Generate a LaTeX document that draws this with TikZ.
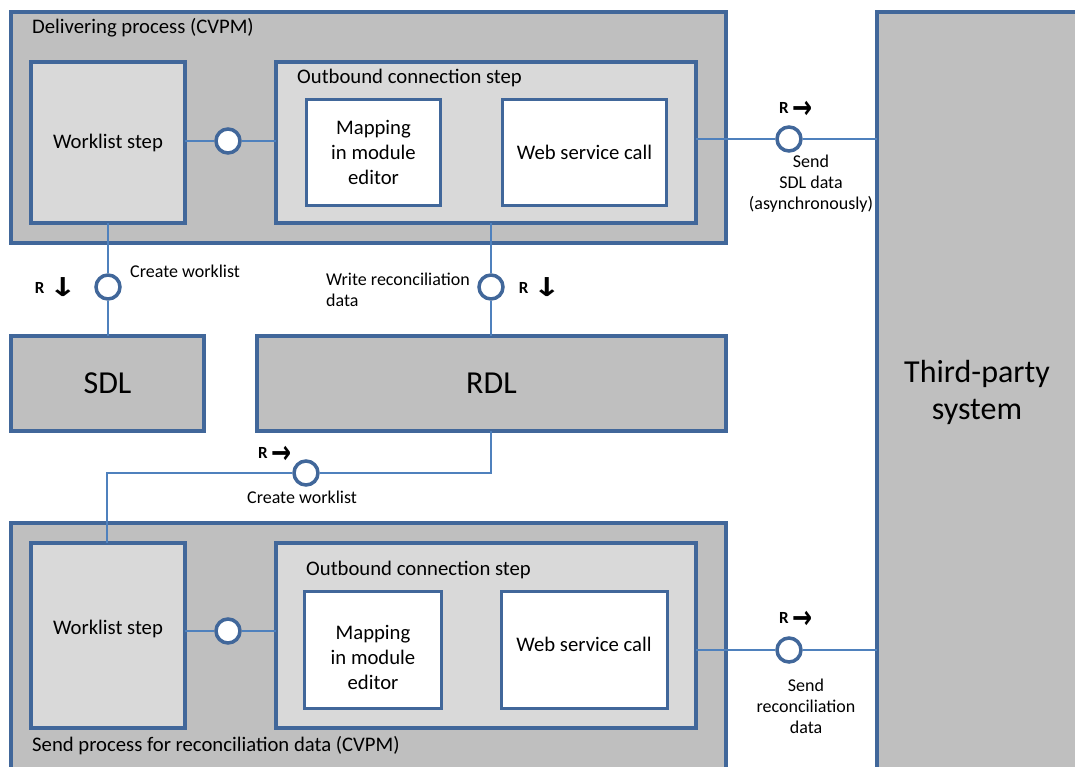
\documentclass[tikz,border=0pt]{standalone}
\usepackage{graphicx}
\usepackage{fontspec}
\setmainfont{Carlito}
\newfontfamily\arrowfont{DejaVu Sans}
\begin{document}
\begin{tikzpicture}[x=1pt,y=-1pt]
  % Colores
  \definecolor{framecolor}{RGB}{65,103,154}
  \definecolor{linkcolor}{RGB}{79,129,189}
  \definecolor{outerfill}{RGB}{191,191,191}
  \definecolor{innerfill}{RGB}{217,217,217}

  % Estilos
  \tikzset{
    process/.style={draw=framecolor, fill=outerfill, line width=4pt, anchor=north west, inner sep=0pt, outer sep=0pt},
    stepbox/.style={draw=framecolor, fill=innerfill, line width=3.5pt, anchor=north west, inner sep=0pt, outer sep=0pt, font=\fontsize{20.7}{25}\selectfont},
    task/.style={draw=framecolor, fill=white, line width=3pt, anchor=north west, inner sep=0pt, outer sep=0pt, align=center, font=\fontsize{20.7}{25}\selectfont},
    boxtext/.style={inner sep=0pt, align=center, font=\fontsize{20.7}{25}\selectfont},
    store/.style={draw=framecolor, fill=outerfill, line width=3.5pt, anchor=north west, inner sep=0pt, outer sep=0pt, align=center, font=\fontsize{32}{37}\selectfont},
    caption/.style={anchor=west, inner sep=0pt, font=\fontsize{20.7}{25}\selectfont},
    iface/.style={circle, draw=framecolor, fill=white, line width=3.5pt, minimum size=24pt, inner sep=0pt},
    link/.style={draw=linkcolor, line width=1.3pt},
    note/.style={inner sep=0pt, align=center, font=\fontsize{18}{21}\selectfont},
    req/.style={inner sep=0pt, font=\fontsize{17}{18}\selectfont}
  }
  \newcommand{\reqright}{\textbf{R}\hspace{4pt}\raisebox{-5pt}{\scalebox{1.2}[1.6]{\arrowfont\bfseries\fontsize{20}{20}\selectfont →}}}
  \newcommand{\reqdown}{\textbf{R}\hspace{4pt}\raisebox{-3pt}{\scalebox{1.7}[1.3]{\arrowfont\bfseries\fontsize{20}{20}\selectfont ↓}}}

  \useasboundingbox (0,0) rectangle (1075,766);
  \clip (0,0) rectangle (1075,766);

  % Sistema de terceros
  \node[store, minimum width=200pt, minimum height=760pt] (third) at (877,12) {Third-party\\system};

  % Proceso de entrega
  \node[process, minimum width=715pt, minimum height=231pt] (deliv) at (11,12) {};
  \node[caption] (delivlbl) at (32,28) {Delivering process (CVPM)};
  \node[stepbox, minimum width=154pt, minimum height=161pt] (wlA) at (31,62) {Worklist step};
  \node[stepbox, minimum width=420pt, minimum height=161pt] (outA) at (276,62) {};
  \node[caption] (outAlbl) at (297,78) {Outbound connection step};
  \node[task, minimum width=134pt, minimum height=106pt] (mapA) at (306.5,99.5) {Mapping\\in module\\editor};
  \node[task, minimum width=164pt, minimum height=106pt] (webA) at (502.5,99.5) {Web service call};

  % Almacenes de datos
  \node[store, minimum width=193pt, minimum height=95pt] (sdl) at (11,336) {SDL};
  \node[store, minimum width=469pt, minimum height=95pt] (rdl) at (257,336) {RDL};

  % Proceso de envio
  \node[process, minimum width=715pt, minimum height=260pt] (send) at (11,523) {};
  \node[caption] (sendlbl) at (32,746) {Send process for reconciliation data (CVPM)};
  \node[stepbox, minimum width=154pt, minimum height=185pt] (wlB) at (31,543) {};
  \node[boxtext] (wlBtxt) at (108,629) {Worklist step};
  \node[stepbox, minimum width=420pt, minimum height=185pt] (outB) at (276,543) {};
  \node[caption] (outBlbl) at (306,570) {Outbound connection step};
  \node[task, minimum width=137pt, minimum height=117pt] (mapB) at (304.5,591.5) {};
  \node[boxtext] (mapBtxt) at (373,657) {Mapping\\in module\\editor};
  \node[task, minimum width=166pt, minimum height=117pt] (webB) at (501.5,591.5) {};
  \node[boxtext] (webBtxt) at (584,644) {Web service call};

  % Interfaces
  \node[iface] (ifA) at (228,141) {};
  \node[iface] (ifSend) at (789,139) {};
  \node[iface] (ifSdl) at (108,287) {};
  \node[iface] (ifRdl) at (491,287) {};
  \node[iface] (ifWl) at (306,473) {};
  \node[iface] (ifB) at (228,631) {};
  \node[iface] (ifRec) at (789,650) {};
  \coordinate (bendR) at (491,473);
  \coordinate (bendL) at (107,473);

  % Conexiones
  \draw[link] (ifA -| wlA.east) -- (ifA);
  \draw[link] (ifA) -- (ifA -| outA.west);
  \draw[link] (ifSend -| outA.east) -- (ifSend);
  \draw[link] (ifSend) -- (ifSend -| third.west);
  \draw[link] (ifSdl |- wlA.south) -- (ifSdl);
  \draw[link] (ifSdl) -- (ifSdl |- sdl.north);
  \draw[link] (ifRdl |- outA.south) -- (ifRdl);
  \draw[link] (ifRdl) -- (ifRdl |- rdl.north);
  \draw[link] (bendR |- rdl.south) -- (bendR) -- (ifWl);
  \draw[link] (ifWl) -- (bendL) -- (bendL |- wlB.north);
  \draw[link] (ifB -| wlB.east) -- (ifB);
  \draw[link] (ifB) -- (ifB -| outB.west);
  \draw[link] (ifRec -| outB.east) -- (ifRec);
  \draw[link] (ifRec) -- (ifRec -| third.west);

  % Etiquetas de interfaces
  \node[req] (reqSend) at (796,110) {\reqright};
  \node[req] (reqSdl) at (56,287) {\reqdown};
  \node[req] (reqRdl) at (540,287) {\reqdown};
  \node[req] (reqWl) at (275,455) {\reqright};
  \node[req] (reqRec) at (796,620) {\reqright};
  \node[note, anchor=west] (noteSdl) at (130,271) {Create worklist};
  \node[note, anchor=north west, align=left] (noteRdl) at (326,273) {Write reconciliation\\data};
  \node[note] (noteWl) at (302,497) {Create worklist};
  \node[note] (noteSend) at (811,184) {Send\\SDL data\\(asynchronously)};
  \node[note] (noteRec) at (806,706) {Send\\reconciliation\\data};
\end{tikzpicture}
\end{document}
